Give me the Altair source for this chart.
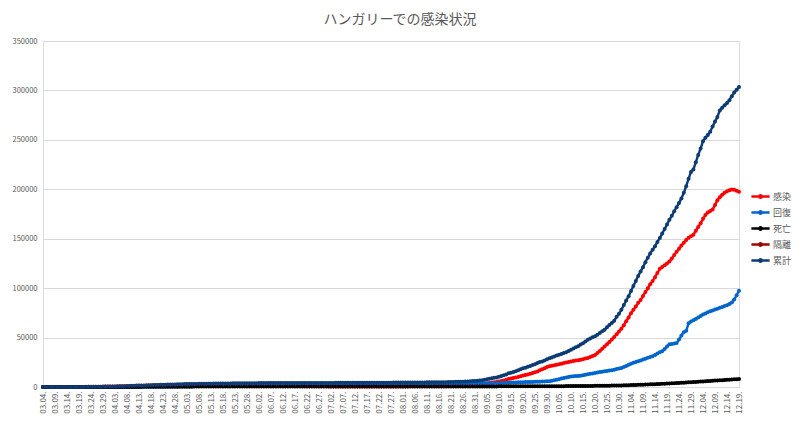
import altair as alt
import pandas as pd

# Categories: daily dates 2020-03-04 .. 2020-12-19 (labels as in Excel: "MM.DD.")
dates = [d.strftime("%m.%d.") for d in pd.date_range("2020-03-04", "2020-12-19", freq="D")]
tick_labels = dates[::5]

series_names = ["感染", "回復", "死亡", "隔離", "累計"]
series_colors = ["#FF0000", "#0066CC", "#000000", "#A00000", "#0D3C74"]

# 感染 (active)
active = [
    2, 2, 4, 7, 7, 9, 12, 13, 16, 19, 30, 30, 37, 48, 55, 70, 80, 92, 109, 144, 162, 195, 223, 256, 298, 361, 398, 440,
    468, 513, 542, 586, 633, 639, 699, 763, 828, 1013, 1110, 1177, 1206, 1243, 1275, 1332, 1408, 1459, 1505, 1545,
    1613, 1643, 1708, 1742, 1754, 1777, 1826, 1843, 1844, 1805,
    1864, 1893, 1910, 1912, 1862, 1852, 1844, 1783, 1783, 1800, 1798, 1793, 1764, 1737, 1742, 1731, 1714, 1699, 1673,
    1629, 1609, 1596, 1588, 1570, 1526, 1466, 1438, 1411, 1376, 1347, 1339,
    1339, 1333, 1318, 1313, 1260, 1245, 1214, 1184, 1163, 1107, 1083, 1076, 1054, 1031, 1012, 977, 949, 945, 918, 874,
    843, 809, 787, 761, 746, 725, 704, 688, 666, 650,
    632, 627, 604, 606, 600, 586, 590, 584, 576, 566, 555, 552, 547, 542, 545, 551, 552, 553, 552, 555,
    551, 558, 553, 558, 568, 564, 571, 569, 567, 572, 599,
    612, 626, 622, 636, 639, 662, 668, 669, 694, 705, 719, 732, 760, 767, 790, 791, 798, 799, 852, 912,
    961, 1058, 1090, 1102, 1153, 1272, 1341, 1487, 1621, 1755, 1909,
    2010, 2258, 2603, 3018, 3489, 3929, 4459, 4734, 5088, 5590, 6047, 6658, 7292, 8142, 8570, 9157, 9702, 10234,
    10814, 11512, 12047, 12721, 13377, 14149, 14823, 15597, 16900, 17900, 18950, 20300,
    21034, 21487, 22013, 22631, 23089, 23612, 24215, 24688, 25327, 25893, 26318, 26702, 27115, 27594, 28137, 28706,
    29318, 30264, 31327, 32488, 34302, 36417, 38569, 41012, 43278, 45633, 47984, 50512, 53367, 56195, 59041,
    62480, 66530, 70410, 74620, 78150, 81470, 85120, 88060, 92140, 96030, 99870, 103960, 107210, 111080, 115440,
    119520, 121430, 123080, 124960, 126910, 129880, 133460, 136920, 139870, 143120, 145940, 148710, 150880, 152460, 154010,
    157960, 161840, 165620, 170110, 173940, 176480, 177920, 179560, 184130, 189020, 192070, 194480, 196510, 197960,
    199040, 199810, 199630, 198570, 197480,
]

# 回復 (recovered)
recovered = [
    0, 0, 0, 0, 0, 0, 0, 0, 0, 0, 0, 1, 1, 1, 2, 2, 2, 7, 16, 16, 16, 21, 28, 34, 34, 34, 34, 37,
    40, 52, 60, 66, 66, 67, 71, 74, 86, 100, 115, 134, 143, 147, 170, 178, 199, 203, 222, 240,
    272, 300, 337, 391, 427, 451, 477, 515, 583, 658,
    680, 709, 737, 760, 830, 876, 914, 990, 1017, 1042, 1061, 1118, 1180, 1238, 1283, 1327, 1359, 1390, 1455, 1504,
    1556, 1600, 1640, 1680, 1731, 1800, 1846, 1894, 1948, 1996, 2010,
    2024, 2054, 2074, 2099, 2164, 2197, 2243, 2277, 2300, 2365, 2396, 2416, 2447, 2475, 2500, 2537, 2566, 2582, 2616, 2663,
    2700, 2742, 2768, 2795, 2813, 2837, 2860, 2878, 2903, 2920,
    2939, 2953, 2979, 2989, 3001, 3016, 3025, 3037, 3055, 3071, 3085, 3101, 3114, 3126, 3139, 3147, 3157, 3166, 3178, 3188,
    3196, 3204, 3217, 3225, 3234, 3243, 3251, 3259, 3268, 3276, 3284,
    3291, 3298, 3307, 3315, 3323, 3332, 3340, 3349, 3358, 3368, 3378, 3386, 3397, 3406, 3416, 3424, 3433, 3445, 3455, 3466,
    3475, 3487, 3500, 3512, 3525, 3540, 3556, 3568, 3583, 3598, 3614,
    3630, 3662, 3698, 3741, 3779, 3832, 3877, 3941, 3996, 4072, 4138, 4223, 4297, 4384, 4455, 4547, 4618, 4702, 4785, 4856,
    4947, 5018, 5103, 5176, 5268, 5337, 5425, 5498, 5604, 5702,
    5832, 6264, 6711, 7296, 7903, 8488, 9107, 9642, 10215, 10688, 10914, 11047, 11213, 11406, 11894, 12411, 12879, 13322,
    13716, 14195, 14683, 15097, 15462, 15815, 16193, 16618, 17004, 17512, 18083, 18647, 19218,
    20214, 21287, 22396, 23518, 24472, 25311, 26034, 26792, 27715, 28583, 29496, 30327, 31218, 32405, 33781, 35126,
    36240, 38315, 40872, 43296, 43612, 44087, 44431, 48016, 51987, 55482, 56811, 64492, 66218, 67593,
    68912, 70288, 71806, 73215, 74406, 75493, 76512, 77384, 78297, 79218, 80105, 81011, 81894, 82813, 84027, 85512,
    88496, 92815, 97413,
]

# 死亡 (deaths)
deaths = [
    0, 0, 0, 0, 0, 0, 0, 0, 0, 0, 0, 1, 1, 1, 1, 1, 3, 4, 6, 7, 9, 10, 10, 10, 11, 13, 15, 15,
    17, 20, 21, 26, 34, 38, 47, 58, 66, 77, 85, 99, 109, 122, 134, 142, 156, 172, 189, 199,
    213, 225, 239, 250, 262, 272, 280, 291, 300, 312,
    319, 340, 351, 363, 373, 383, 392, 405, 413, 421, 425, 430, 436, 442, 448, 451, 462, 467, 470, 474,
    476, 482, 485, 491, 499, 505, 509, 511, 517, 524, 527,
    529, 534, 539, 542, 546, 548, 551, 553, 554, 555, 560, 561, 563, 563, 565, 565, 566, 567, 568, 570,
    571, 572, 572, 575, 576, 577, 578, 579, 581, 585,
    586, 586, 588, 588, 588, 589, 590, 591, 592, 592, 594, 594, 595, 595, 595, 595, 596, 596, 596, 596,
    596, 596, 596, 597, 598, 598, 599, 599, 600, 600, 601,
    602, 602, 602, 602, 602, 603, 603, 603, 603, 603, 604, 605, 606, 607, 607, 608, 608, 609, 609, 609,
    610, 610, 611, 612, 613, 614, 614, 614, 615, 615, 616,
    617, 620, 622, 623, 624, 626, 627, 629, 631, 636, 641, 644, 646, 653, 660, 669, 678, 684, 691, 698,
    705, 711, 720, 727, 734, 743, 750, 760, 768, 786,
    802, 815, 829, 842, 856, 870, 884, 898, 914, 932, 950, 966, 983, 1005, 1028, 1051, 1075, 1099, 1126, 1156,
    1189, 1222, 1256, 1290, 1326, 1367, 1410, 1456, 1507, 1563, 1621,
    1683, 1754, 1833, 1915, 2002, 2092, 2185, 2280, 2378, 2478, 2581, 2686, 2794, 2903, 3015, 3130, 3247, 3366, 3488, 3612,
    3738, 3866, 3997, 4130, 4265, 4403, 4543, 4685, 4829, 4975,
    5148, 5311, 5470, 5641, 5800, 5962, 6134, 6296, 6458, 6627, 6789, 6951, 7118, 7285, 7443, 7611, 7776, 7941, 8107,
]

# 隔離 (no visible data in the reference; legend entry only)
isolated = []

# 累計 (cumulative)
total = [
    2, 2, 4, 7, 7, 9, 12, 13, 16, 19, 30, 32, 39, 50, 58, 73, 85, 103, 131, 167, 187, 226, 261, 300, 343, 408, 447, 492,
    525, 585, 623, 678, 733, 744, 817, 895, 980, 1190, 1310, 1410, 1458, 1512, 1579, 1652, 1763, 1834, 1916, 1984,
    2098, 2168, 2284, 2383, 2443, 2500, 2583, 2649, 2727, 2775,
    2863, 2942, 2998, 3035, 3065, 3111, 3150, 3178, 3213, 3263, 3284, 3341, 3380, 3417, 3473, 3509, 3535, 3556, 3598, 3607,
    3641, 3678, 3713, 3741, 3756, 3771, 3793, 3816, 3841, 3867, 3876,
    3892, 3921, 3931, 3954, 3970, 3990, 4008, 4014, 4017, 4027, 4039, 4053, 4064, 4069, 4077, 4079, 4081, 4094, 4102, 4107,
    4114, 4123, 4127, 4131, 4135, 4139, 4142, 4145, 4150, 4155,
    4157, 4166, 4171, 4183, 4189, 4191, 4205, 4212, 4223, 4229, 4234, 4247, 4256, 4263, 4279, 4293, 4305, 4315, 4326, 4339,
    4343, 4358, 4366, 4380, 4400, 4405, 4421, 4427, 4435, 4448, 4484,
    4505, 4526, 4531, 4553, 4564, 4597, 4611, 4621, 4655, 4676, 4701, 4723, 4763, 4780, 4813, 4823, 4839, 4853, 4916, 4987,
    5046, 5155, 5201, 5226, 5291, 5426, 5511, 5669, 5819, 5968, 6139,
    6257, 6540, 6923, 7382, 7892, 8387, 8963, 9304, 9715, 10398, 11026, 11825, 12635, 13879, 14385, 15173, 15998, 16920,
    17990, 18866, 19499, 20450, 21200, 22252, 23125, 24177, 25191, 25916, 26680, 28016,
    28970, 29891, 30923, 31798, 32519, 33402, 34315, 35227, 36412, 37692, 38984, 40117, 41298, 42891, 44319, 46012,
    47793, 49086, 50312, 51389, 52921, 54607, 56284, 58011, 60386, 62809, 64712, 67024, 70982, 74215, 78019,
    83000, 87600, 91800, 97200, 102100, 107300, 112400, 116900, 121200, 126300, 130800, 135100, 138900, 142300, 146700,
    150600, 155200, 159800, 164300, 169100, 173200, 177800, 181900, 186200, 190800, 196400, 203100, 210700, 217600, 220100,
    227300, 234800, 241200, 248600, 252100, 255000, 258300, 263400, 268500, 273100, 279800, 282600, 284900, 287300,
    290100, 294200, 297900, 300600, 303400,
]

series_values = [active, recovered, deaths, isolated, total]
for vals in series_values:
    assert len(vals) in (0, len(dates)), len(vals)

rows = []
for name, vals in zip(series_names, series_values):
    for i, v in enumerate(vals):
        rows.append({"date": dates[i], "i": i, "series": name, "value": v})
df = pd.DataFrame(rows)

FONT = "Noto Sans CJK JP"
GRAY = "#595959"

legend_path = "M-1.3,0L1.3,0M-0.18,0A0.18,0.18,0,1,0,0.18,0A0.18,0.18,0,1,0,-0.18,0"

color = alt.Color(
    "series:N",
    scale=alt.Scale(domain=series_names, range=series_colors),
    legend=alt.Legend(
        title=None,
        orient="none",
        legendX=709,
        legendY=147,
        symbolType=legend_path,
        symbolSize=196,
        symbolStrokeWidth=2.4,
        symbolFillColor="transparent",
        labelFontSize=9,
        labelColor=GRAY,
        labelFont=FONT,
        labelOffset=4,
        rowPadding=1,
    ),
)

chart = (
    alt.Chart(df)
    .mark_line(strokeWidth=2.4, point=alt.OverlayMarkDef(filled=True, size=16, opacity=1))
    .encode(
        x=alt.X(
            "date:N",
            sort=dates,
            scale=alt.Scale(type="point", padding=0),
            axis=alt.Axis(
                title=None,
                values=tick_labels,
                labelAngle=-90,
                labelFontSize=8,
                labelColor=GRAY,
                labelFont=FONT,
                labelPadding=4,
                labelOverlap=False,
                ticks=False,
                domainColor="#d9d9d9",
                domainWidth=1,
                grid=False,
            ),
        ),
        y=alt.Y(
            "value:Q",
            scale=alt.Scale(domain=[0, 350000], nice=False),
            axis=alt.Axis(
                title=None,
                values=[0, 50000, 100000, 150000, 200000, 250000, 300000, 350000],
                format="d",
                labelFontSize=7.5,
                labelColor=GRAY,
                labelFont=FONT,
                labelPadding=6,
                ticks=False,
                domain=False,
                gridColor="#d9d9d9",
                gridWidth=1,
            ),
        ),
        color=color,
        order=alt.Order("i:Q"),
    )
    .properties(
        width=696,
        height=346,
        title=alt.TitleParams(
            "ハンガリーでの感染状況",
            fontSize=14,
            font=FONT,
            color=GRAY,
            fontWeight="normal",
            anchor="middle",
            offset=10,
            dx=9,
        ),
        autosize=alt.AutoSizeParams(type="none"),
        padding={"left": 35, "top": 33, "right": 53, "bottom": 27},
    )
    .configure_view(stroke=None)
    .configure(background="white")
)

chart.save("out.html", embed_options={"renderer": "svg", "actions": False})
